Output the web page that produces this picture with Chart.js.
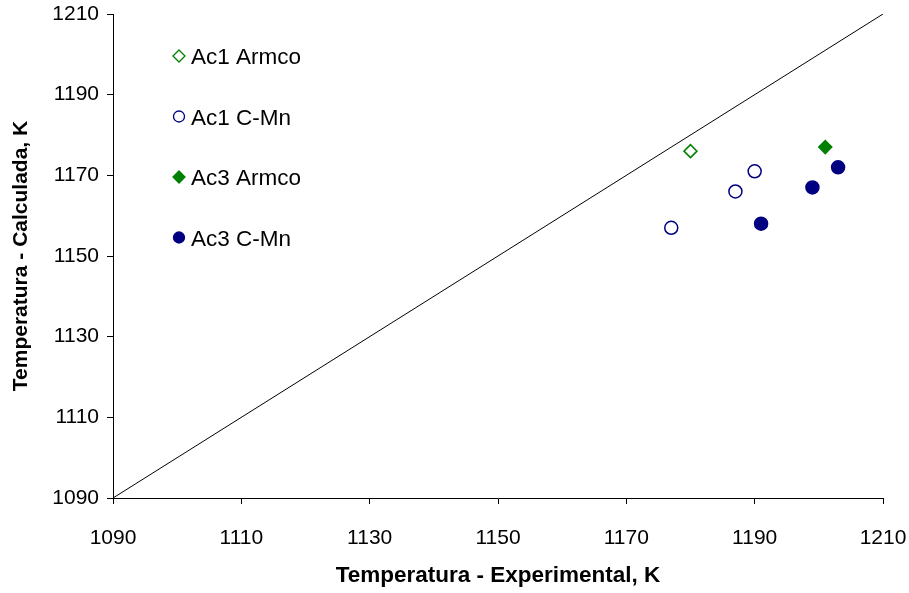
<!DOCTYPE html>
<html>
<head>
<meta charset="utf-8">
<script src="https://cdn.jsdelivr.net/npm/chart.js@4"></script>
<style>
  html, body { margin: 0; padding: 0; background: #fff; }
  #wrap { width: 909px; height: 593px; }
</style>
</head>
<body>
<div id="wrap"><canvas id="tempChart" width="909" height="593"></canvas></div>
<script>
// experimental vs calculated transformation temperatures (K)
const ac1ArmcoExp = [1180];
const ac1ArmcoCalc = [1176];
const ac1CMnExp = [1177, 1187, 1190];
const ac1CMnCalc = [1157, 1166, 1171];
const ac3ArmcoExp = [1201];
const ac3ArmcoCalc = [1177];
const ac3CMnExp = [1191, 1199, 1203];
const ac3CMnCalc = [1158, 1167, 1172];
const identityLine = [1090, 1210];
const axisTicks = [1090, 1110, 1130, 1150, 1170, 1190, 1210];

const GREEN = '#008000';
const NAVY = '#000080';
const FONT = "'Liberation Sans', Arial, sans-serif";

function pairs(xs, ys) {
  return xs.map((x, i) => ({ x: x, y: ys[i] }));
}

const seriesDefs = [
  { label: 'Ac1 Armco', data: pairs(ac1ArmcoExp, ac1ArmcoCalc), style: 'rectRot', color: GREEN, filled: false },
  { label: 'Ac1 C-Mn', data: pairs(ac1CMnExp, ac1CMnCalc), style: 'circle', color: NAVY, filled: false },
  { label: 'Ac3 Armco', data: pairs(ac3ArmcoExp, ac3ArmcoCalc), style: 'rectRot', color: GREEN, filled: true },
  { label: 'Ac3 C-Mn', data: pairs(ac3CMnExp, ac3CMnCalc), style: 'circle', color: NAVY, filled: true }
];

// legend sits inside the plot, upper left
const insideLegend = {
  id: 'insideLegend',
  afterDraw(chart) {
    const { ctx, chartArea } = chart;
    ctx.save();
    ctx.font = '22.5px ' + FONT;
    ctx.textBaseline = 'middle';
    seriesDefs.forEach((s, i) => {
      const mx = chartArea.left + 66;
      const my = chartArea.top + 42 + i * 60.5;
      ctx.fillStyle = s.filled ? s.color : '#fff';
      ctx.strokeStyle = s.color;
      ctx.lineWidth = 1.3;
      ctx.beginPath();
      if (s.style === 'circle') {
        ctx.arc(mx, my, 5.5, 0, Math.PI * 2);
      } else {
        ctx.moveTo(mx, my - 6); ctx.lineTo(mx + 6, my); ctx.lineTo(mx, my + 6); ctx.lineTo(mx - 6, my); ctx.closePath();
      }
      ctx.fill();
      ctx.stroke();
      ctx.fillStyle = '#000';
      ctx.fillText(s.label, mx + 12, my + 2);
    });
    ctx.restore();
  }
};

const datasets = seriesDefs.map(s => ({
  type: 'scatter',
  label: s.label,
  data: s.data,
  pointStyle: s.style,
  pointRadius: 6.5,
  pointHoverRadius: 6.5,
  pointBorderWidth: 1.5,
  pointBorderColor: s.color,
  pointBackgroundColor: s.filled ? s.color : '#fff'
}));

datasets.unshift({
  type: 'line',
  label: '1:1',
  data: pairs(identityLine, identityLine),
  borderColor: '#000',
  borderWidth: 1,
  pointRadius: 0,
  fill: false
});

const plainTick = v => String(v);

new Chart(document.getElementById('tempChart').getContext('2d'), {
  data: { datasets: datasets },
  options: {
    responsive: false,
    animation: false,
    events: [],
    layout: { padding: { top: 14, right: 26, left: 0, bottom: 0 } },
    plugins: { legend: { display: false }, tooltip: { enabled: false } },
    scales: {
      x: {
        type: 'linear',
        min: 1090,
        max: 1210,
        afterBuildTicks: scale => { scale.ticks = axisTicks.map(v => ({ value: v })); },
        afterFit: scale => { scale.height = 95; scale.paddingLeft = 0; scale.paddingRight = 0; },
        grid: { display: true, drawOnChartArea: false, drawTicks: true, tickLength: 6, color: '#000', lineWidth: 1 },
        border: { display: true, color: '#000', width: 1 },
        ticks: { color: '#000', padding: 22, font: { family: FONT, size: 21 }, maxRotation: 0, callback: plainTick },
        title: { display: true, text: 'Temperatura - Experimental, K', color: '#000', padding: { top: 0, bottom: 4 }, font: { family: FONT, size: 22.5, weight: 'bold' } }
      },
      y: {
        type: 'linear',
        min: 1090,
        max: 1210,
        afterBuildTicks: scale => { scale.ticks = axisTicks.map(v => ({ value: v })); },
        afterFit: scale => { scale.width = 113; scale.paddingTop = 0; scale.paddingBottom = 0; },
        grid: { display: true, drawOnChartArea: false, drawTicks: true, tickLength: 6, color: '#000', lineWidth: 1 },
        border: { display: true, color: '#000', width: 1 },
        ticks: { color: '#000', padding: 8, font: { family: FONT, size: 21 }, callback: plainTick },
        title: { display: true, text: 'Temperatura - Calculada, K', color: '#000', padding: { top: 9, bottom: 0 }, font: { family: FONT, size: 21, weight: 'bold' } }
      }
    }
  },
  plugins: [insideLegend]
});
</script>
</body>
</html>
